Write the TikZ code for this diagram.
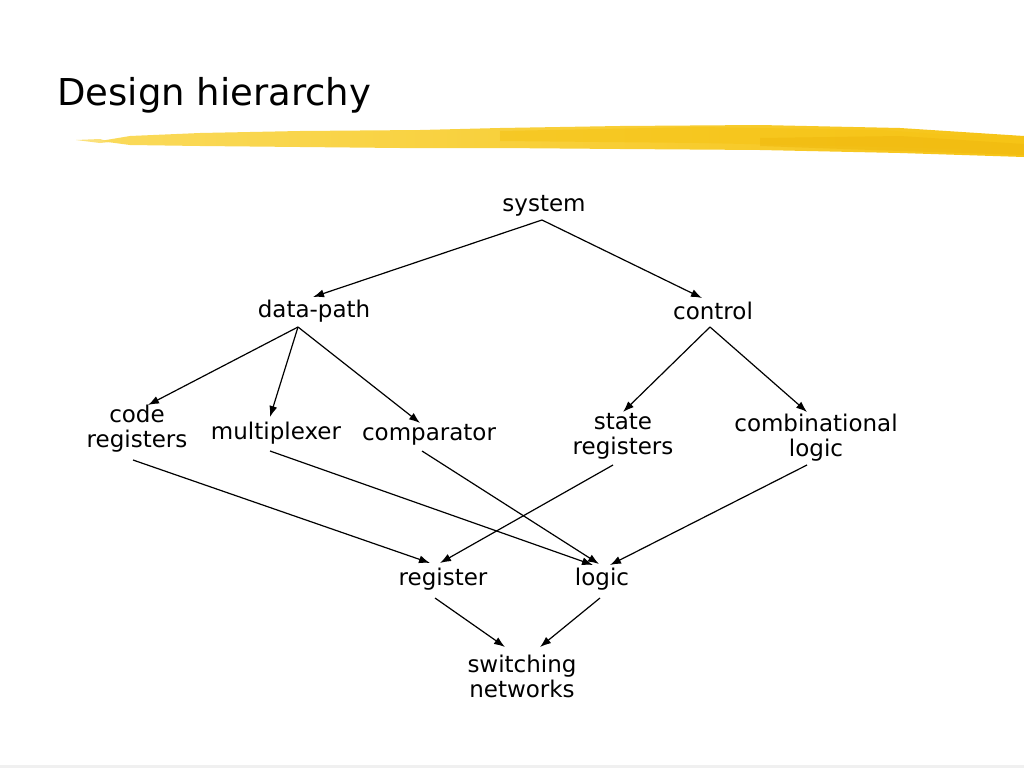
\documentclass[tikz,border=0pt]{standalone}
\usepackage{fontspec}
\setmainfont{DejaVu Sans}
\usetikzlibrary{arrows.meta}
\definecolor{brushA}{RGB}{250,218,90}
\definecolor{brushB}{RGB}{246,196,22}
\definecolor{brushC}{RGB}{240,185,15}
\begin{document}
\begin{tikzpicture}[x=1pt,y=-1pt,
  lbl/.style={inner sep=0pt, align=center, font=\fontsize{23}{25}\selectfont},
  arr/.style={draw=black, line width=1.2pt, -{Latex[length=11pt,width=8pt]}}]
\useasboundingbox (0,0) rectangle (1024,768);
\fill[white] (0,0) rectangle (1024,768);
\fill[gray!12] (0,765) rectangle (1024,768);
% brush stroke
\shade[left color=brushA, right color=brushB, draw=none]
  (100,141) -- (130,136) -- (200,133) -- (300,131) -- (420,130) -- (500,128) -- (620,126) -- (760,125) -- (900,128) -- (1024,136)
  -- (1024,157) -- (900,153) -- (760,150) -- (620,149) -- (500,148) -- (400,148) -- (300,147) -- (200,146) -- (130,145) -- cycle;
\fill[brushB, opacity=0.6] (500,131) -- (700,127) -- (880,130) -- (1024,140) -- (1024,150) -- (880,147) -- (700,143) -- (500,141) -- cycle;
\fill[brushC, opacity=0.6] (760,138) -- (900,136) -- (1024,144) -- (1024,155) -- (900,151) -- (760,146) -- cycle;
\fill[brushA, opacity=0.8] (76,140) -- (100,139) -- (110,142) -- (100,143) -- cycle;
% title
\node[anchor=base west, inner sep=0pt, font=\fontsize{37}{40}\selectfont] (title) at (57,105) {Design hierarchy};
% nodes
\node[lbl] (sys) at (544,206) {system};
\node[lbl] (dp) at (314,311) {data-path};
\node[lbl] (ctl) at (713,311) {control};
\node[lbl] (code) at (137,429) {code\\registers};
\node[lbl] (mux) at (276,433) {multiplexer};
\node[lbl] (cmp) at (429,435) {comparator};
\node[lbl] (state) at (623,436) {state\\registers};
\node[lbl] (comb) at (816,438) {combinational\\logic};
\node[lbl] (reg) at (443,579) {register};
\node[lbl] (lg) at (602,579) {logic};
\node[lbl] (sw) at (522,676) {switching\\networks};
% connectors
\draw[arr] ([shift={(-2,14)}]sys.center) -- ([shift={(-1,-14)}]dp.center);
\draw[arr] ([shift={(-2,14)}]sys.center) -- ([shift={(-11,-13)}]ctl.center);
\draw[arr] ([shift={(-16,16)}]dp.center) -- ([shift={(11,-24)}]code.center);
\draw[arr] ([shift={(-16,16)}]dp.center) -- ([shift={(-6,-16)}]mux.center);
\draw[arr] ([shift={(-16,16)}]dp.center) -- ([shift={(-9,-12)}]cmp.center);
\draw[arr] ([shift={(-3,16)}]ctl.center) -- ([shift={(0,-24)}]state.center);
\draw[arr] ([shift={(-3,16)}]ctl.center) -- ([shift={(-9,-26)}]comb.center);
\draw[arr] ([shift={(-4,31)}]code.center) -- ([shift={(-13,-16)}]reg.center);
\draw[arr] ([shift={(-6,18)}]mux.center) -- ([shift={(-9,-14)}]lg.center);
\draw[arr] ([shift={(-7,16)}]cmp.center) -- ([shift={(-3,-15)}]lg.center);
\draw[arr] ([shift={(-10,29)}]state.center) -- ([shift={(-3,-16)}]reg.center);
\draw[arr] ([shift={(-9,27)}]comb.center) -- ([shift={(8,-14)}]lg.center);
\draw[arr] ([shift={(-8,19)}]reg.center) -- ([shift={(-17,-29)}]sw.center);
\draw[arr] ([shift={(-2,19)}]lg.center) -- ([shift={(18,-29)}]sw.center);
\end{tikzpicture}
\end{document}
